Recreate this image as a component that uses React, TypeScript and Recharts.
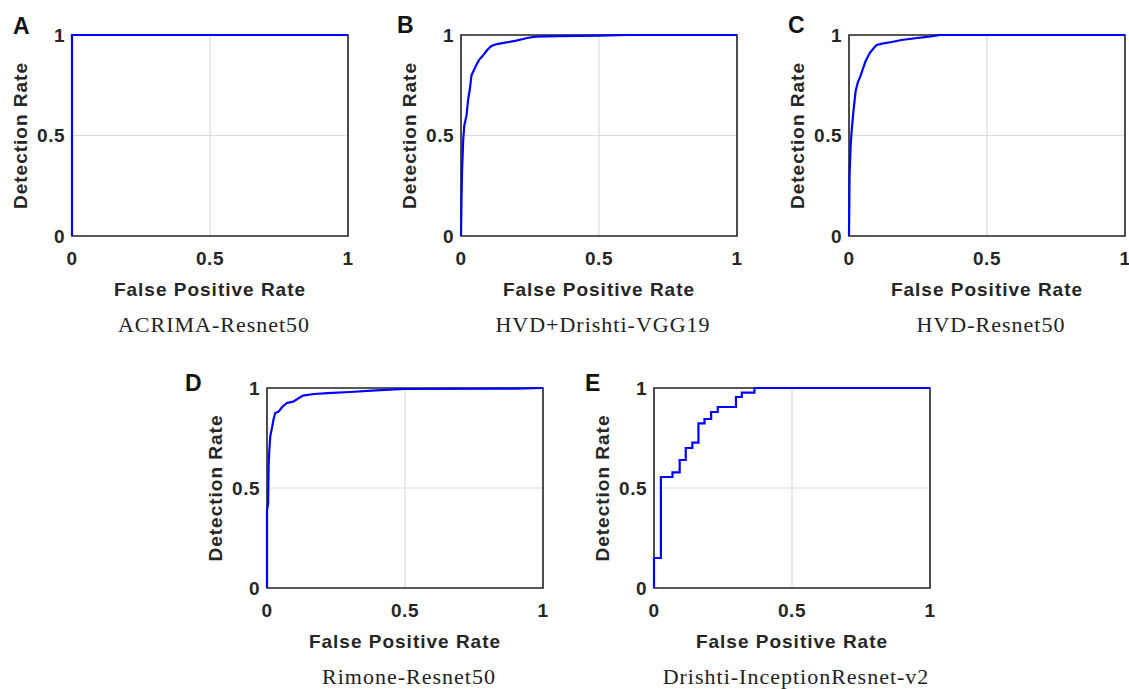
import React from "react";
import { LineChart, Line, XAxis, YAxis, CartesianGrid, ReferenceArea } from "recharts";

const axisTicks = [0, 0.5, 1];

// A: ACRIMA-Resnet50
const fprA = [0, 0, 1];
const tprA = [0, 1, 1];

// B: HVD+Drishti-VGG19
const fprB = [0, 0.002, 0.004, 0.008, 0.012, 0.02, 0.026, 0.032, 0.038, 0.045, 0.055, 0.065, 0.078, 0.095, 0.11, 0.13, 0.16, 0.2, 0.24, 0.27, 0.35, 0.5, 0.6, 1];
const tprB = [0, 0.2, 0.33, 0.48, 0.55, 0.6, 0.68, 0.73, 0.8, 0.82, 0.85, 0.875, 0.895, 0.925, 0.945, 0.955, 0.962, 0.972, 0.985, 0.992, 0.994, 0.997, 1, 1];

// C: HVD-Resnet50
const fprC = [0, 0.002, 0.006, 0.01, 0.016, 0.024, 0.032, 0.04, 0.05, 0.06, 0.075, 0.09, 0.1, 0.125, 0.155, 0.19, 0.24, 0.29, 0.33, 1];
const tprC = [0, 0.3, 0.45, 0.53, 0.62, 0.72, 0.765, 0.79, 0.83, 0.87, 0.91, 0.935, 0.95, 0.958, 0.965, 0.975, 0.984, 0.992, 1, 1];

// D: Rimone-Resnet50
const fprD = [0, 0, 0.004, 0.006, 0.008, 0.012, 0.018, 0.024, 0.03, 0.042, 0.055, 0.072, 0.095, 0.11, 0.13, 0.17, 0.22, 0.3, 0.38, 0.46, 0.5, 0.9, 1];
const tprD = [0, 0.39, 0.42, 0.62, 0.68, 0.76, 0.8, 0.845, 0.875, 0.882, 0.905, 0.925, 0.932, 0.945, 0.962, 0.97, 0.974, 0.98, 0.987, 0.993, 0.995, 0.997, 1];

// E: Drishti-InceptionResnet-v2 (staircase)
const fprE = [0, 0.025, 0.067, 0.093, 0.115, 0.139, 0.161, 0.183, 0.207, 0.231, 0.297, 0.318, 0.364, 1];
const tprE = [0, 0.15, 0.555, 0.578, 0.64, 0.7, 0.727, 0.823, 0.845, 0.88, 0.905, 0.955, 0.977, 1];

const toRows = (fpr: number[], tpr: number[]) => fpr.map((x, i) => ({ fpr: x, tpr: tpr[i] }));

const panels = [
  { letter: "A", caption: "ACRIMA-Resnet50", rows: toRows(fprA, tprA), curve: "linear", left: 72, top: 35, h: 201, lx: 13, ly: 18 },
  { letter: "B", caption: "HVD+Drishti-VGG19", rows: toRows(fprB, tprB), curve: "linear", left: 461, top: 35, h: 201, lx: 397, ly: 17 },
  { letter: "C", caption: "HVD-Resnet50", rows: toRows(fprC, tprC), curve: "linear", left: 849, top: 35, h: 201, lx: 788, ly: 17 },
  { letter: "D", caption: "Rimone-Resnet50", rows: toRows(fprD, tprD), curve: "linear", left: 267, top: 388, h: 200, lx: 185, ly: 375 },
  { letter: "E", caption: "Drishti-InceptionResnet-v2", rows: toRows(fprE, tprE), curve: "stepBefore", left: 654, top: 388, h: 200, lx: 585, ly: 375 },
];

const PLOT_W = 276;
const Y_W = 70;
const X_H = 66;
const M_TOP = 15;
const M_RIGHT = 6;

const sans = "'Liberation Sans', Arial, sans-serif";
const serif = "'Liberation Serif', 'Times New Roman', serif";
const ink = "#262626";

const textStyle = { fill: ink, fontSize: 19, fontWeight: 700, fontFamily: sans };

const RocPanel = ({ p }: { p: (typeof panels)[number] }) => (
  <>
    <div
      style={{
        position: "absolute",
        left: p.lx,
        top: p.ly - 3,
        fontFamily: sans,
        fontWeight: 700,
        fontSize: 23,
        lineHeight: 1,
        color: "#111",
      }}
    >
      {p.letter}
    </div>
    <div style={{ position: "absolute", left: p.left - Y_W, top: p.top - M_TOP }}>
      <LineChart
        width={Y_W + PLOT_W + M_RIGHT}
        height={M_TOP + p.h + X_H}
        data={p.rows}
        margin={{ top: M_TOP, right: M_RIGHT, bottom: 0, left: 0 }}
      >
        <CartesianGrid stroke="#dcdcdc" strokeWidth={1.2} />
        <XAxis
          dataKey="fpr"
          type="number"
          domain={[0, 1]}
          ticks={axisTicks}
          height={X_H}
          tickLine={false}
          axisLine={false}
          tickSize={6}
          tickMargin={10}
          tick={textStyle}
          label={{ value: "False Positive Rate", position: "insideBottom", offset: 6, ...textStyle }}
        />
        <YAxis
          dataKey="tpr"
          type="number"
          domain={[0, 1]}
          ticks={axisTicks}
          width={Y_W}
          tickLine={false}
          axisLine={false}
          tickSize={4}
          tickMargin={3}
          tick={textStyle}
          label={{
            value: "Detection Rate",
            angle: -90,
            position: "insideLeft",
            offset: 18,
            ...textStyle,
            style: { textAnchor: "middle" },
          }}
        />
        <ReferenceArea x1={0} x2={1} y1={0} y2={1} fill="none" stroke={ink} strokeWidth={1.6} />
        <Line
          dataKey="tpr"
          type={p.curve as any}
          stroke="#0000ff"
          strokeWidth={2.2}
          dot={false}
          activeDot={false}
          isAnimationActive={false}
        />
      </LineChart>
    </div>
    <div
      style={{
        position: "absolute",
        left: p.left + 4 - 100,
        width: PLOT_W + 200,
        top: p.top + p.h + 79,
        textAlign: "center",
        fontFamily: serif,
        fontSize: 22,
        lineHeight: "20px",
        letterSpacing: 1,
        color: "#222",
      }}
    >
      {p.caption}
    </div>
  </>
);

export default function App() {
  return (
    <div
      style={{
        position: "absolute",
        left: 0,
        top: 0,
        width: 1129,
        height: 689,
        overflow: "hidden",
        background: "#fff",
      }}
    >
      <style>{`.recharts-text { letter-spacing: 1px; } .recharts-cartesian-axis-tick-value { letter-spacing: 0.5px; }`}</style>
      {panels.map((p) => (
        <RocPanel key={p.letter} p={p} />
      ))}
    </div>
  );
}
